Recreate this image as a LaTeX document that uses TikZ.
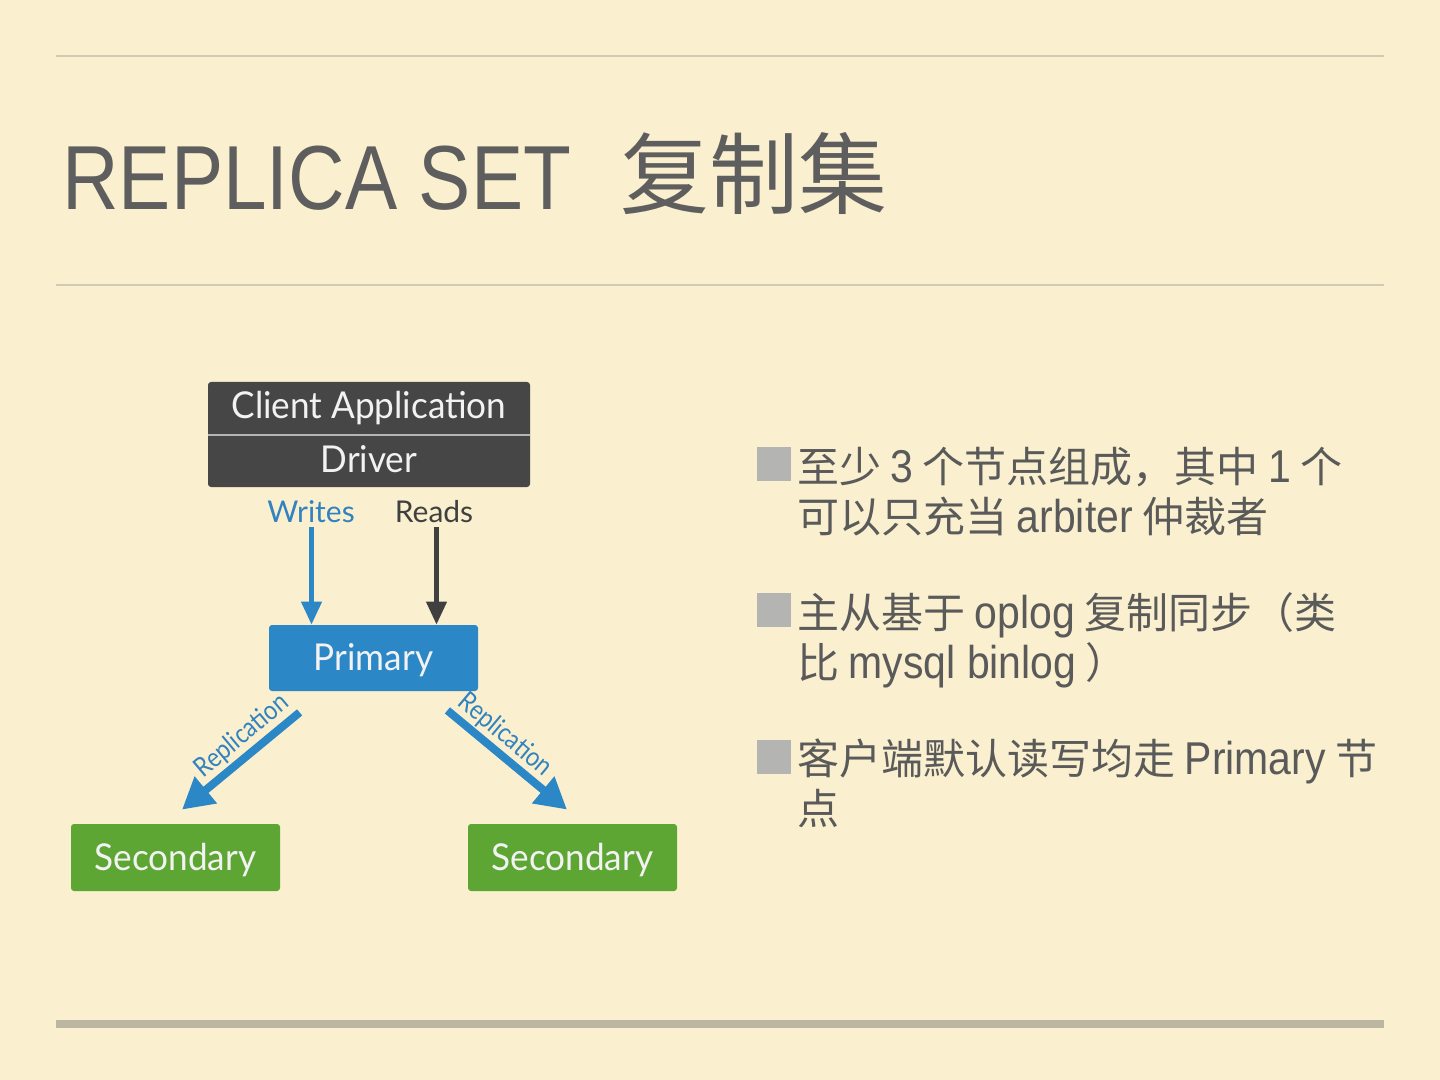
\documentclass[tikz,border=0pt]{standalone}
\usepackage{fontspec}
\setmainfont{Liberation Sans}[FakeStretch=0.86]
\newfontfamily\bodylat{Liberation Sans}[FakeStretch=0.89]
\newfontfamily\cjk{Noto Sans CJK SC}
\newfontfamily\diag{Lato}[FakeStretch=0.95]
\newfontfamily\diaglbl{Lato}
\newfontfamily\diagrep{Lato}[FakeStretch=0.86]
\usetikzlibrary{arrows.meta,calc}
\definecolor{bg}{HTML}{FAF0CF}
\definecolor{rulec}{HTML}{D2CBB3}
\definecolor{rulethick}{HTML}{BDB7A2}
\definecolor{titlegray}{HTML}{5E5E5E}
\definecolor{bodygray}{HTML}{5A5A5A}
\definecolor{bulletgray}{HTML}{B4B4B2}
\definecolor{darkbox}{HTML}{464646}
\definecolor{pblue}{HTML}{2B87C6}
\definecolor{lblue}{HTML}{3183BF}
\definecolor{sgreen}{HTML}{5DA633}
\definecolor{readc}{HTML}{404040}
\newcommand\lat[1]{{\bodylat\fontsize{23}{25}\selectfont #1}}
\begin{document}
\begin{tikzpicture}[x=0.5pt,y=-0.5pt,
  box/.style={rectangle, rounded corners=1.5pt, inner sep=0pt, text=white!95!black,
    font=\diag\fontsize{18.5}{22}\selectfont},
  boxtext/.style={inner sep=0pt, text=white!95!black, font=\diag\fontsize{18.5}{22}\selectfont},
  lbl/.style={inner sep=0pt, font=\diaglbl\fontsize{15}{18}\selectfont},
  replbl/.style={inner sep=0pt, text=lblue, font=\diagrep\fontsize{13.5}{15}\selectfont},
  thinarrow/.style={line width=2.2pt, -{Triangle[width=10pt,length=11.5pt]}},
  reparrow/.style={line width=4pt, draw=pblue, -{Triangle[width=16.5pt,length=15.5pt]}},
  bulletsq/.style={rectangle, fill=bulletgray, minimum size=17pt, inner sep=0pt},
  bodyline/.style={anchor=base west, inner sep=0pt, text=bodygray, font=\cjk\fontsize{21}{25}\selectfont},
]
\useasboundingbox (0,0) rectangle (1440,1080);
\fill[bg] (0,0) rectangle (1440,1080);

% rules
\draw[rulec, line width=0.7pt] (56,56) -- (1384,56);
\draw[rulec, line width=0.7pt] (56,285) -- (1384,285);
\draw[rulethick, line width=4pt] (56,1023.5) -- (1384,1023.5);

% title
\node[anchor=base west, inner sep=0pt, text=titlegray, font=\fontsize{45.5}{50}\selectfont] (title) at (62,210) {REPLICA SET};
\node[anchor=base west, inner sep=0pt, text=titlegray, font=\cjk\fontsize{44.5}{50}\selectfont] (titlecn) at (620,208) {复制集};

% client application / driver
\node[box, fill=darkbox, minimum width=161pt, minimum height=52.5pt] (client) at (369,434.5) {};
\node[boxtext, anchor=base] (app) at (369,419) {Client Application};
\node[boxtext, anchor=base] (drv) at (369,473) {Driver};
\coordinate (dvl) at (208,435);
\coordinate (dvr) at (530,435);
\draw[white!60!darkbox, line width=0.6pt] (dvl) -- (dvr);

% writes / reads
\node[lbl, text=lblue, anchor=base] (wl) at (311,523) {Writes};
\node[lbl, text=readc, anchor=base] (rl) at (434,523) {Reads};

% primary
\node[box, fill=pblue, minimum width=104.5pt, minimum height=33pt] (prim) at (373.5,658) {};
\node[boxtext, anchor=base] (primt) at (373.5,670) {Primary};

\coordinate (wtop) at (311.5,527);
\coordinate (rtop) at (436.5,527);
\draw[thinarrow, draw=pblue, fill=pblue] (wtop) -- (wtop |- prim.north);
\draw[thinarrow, draw=readc, fill=readc] (rtop) -- (rtop |- prim.north);

% secondaries
\node[box, fill=sgreen, minimum width=104.5pt, minimum height=33.5pt] (secL) at (175.5,857.5) {};
\node[box, fill=sgreen, minimum width=104.5pt, minimum height=33.5pt] (secR) at (572.5,857.5) {};
\node[boxtext, anchor=base] (secLt) at (175.5,870) {Secondary};
\node[boxtext, anchor=base] (secRt) at (572.5,870) {Secondary};

% replication arrows
\coordinate (r1s) at ($(prim.south west)+(31,21)$);
\coordinate (r1e) at ($(secL.north)+(6.5,-14)$);
\coordinate (r2s) at ($(prim.south east)+(-31,19)$);
\coordinate (r2e) at ($(secR.north)+(-5.5,-14)$);
\draw[reparrow, fill=pblue] (r1s) -- (r1e);
\draw[reparrow, fill=pblue] (r2s) -- (r2e);
\node[replbl, rotate=40] (rep1) at (242,736) {Replication};
\node[replbl, rotate=-40] (rep2) at (505,735) {Replication};

% bullets
\node[bulletsq] (b1) at (774,464) {};
\node[bulletsq] (b2) at (774,610) {};
\node[bulletsq] (b3) at (774,756.5) {};

\node[bodyline] (t1a) at (797,482) {至少 \lat{3} 个节点组成，其中 \lat{1} 个};
\node[bodyline] (t1b) at (797,532) {可以只充当 \lat{arbiter} 仲裁者};
\node[bodyline] (t2a) at (797,628) {主从基于 \lat{oplog} 复制同步（类};
\node[bodyline] (t2b) at (797,678) {比 \lat{mysql binlog} ）};
\node[bodyline] (t3a) at (797,774) {客户端默认读写均走 \lat{Primary} 节};
\node[bodyline] (t3b) at (797,824) {点};
\end{tikzpicture}
\end{document}
